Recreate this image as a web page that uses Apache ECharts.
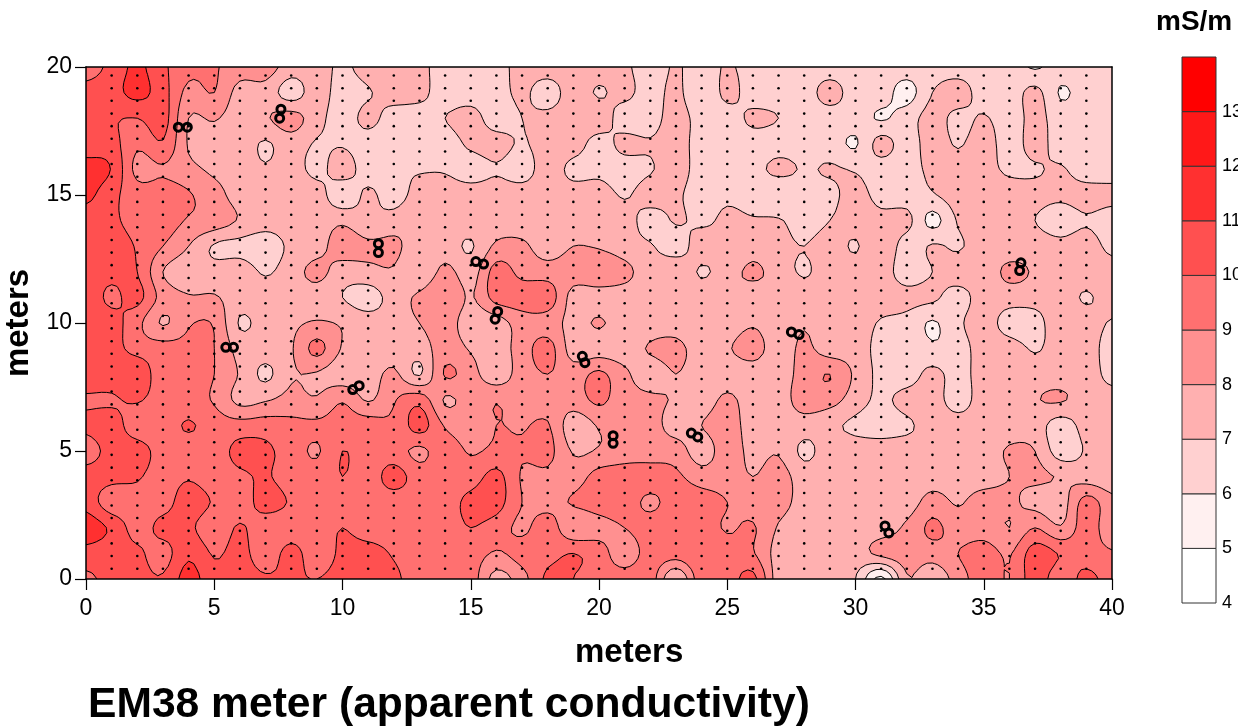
<!DOCTYPE html>
<html>
<head>
<meta charset="utf-8">
<title>EM38 meter (apparent conductivity)</title>
<script src="https://cdn.jsdelivr.net/npm/echarts@6/dist/echarts.min.js"></script>
<style>html,body{margin:0;padding:0;background:#fff}#c{width:1238px;height:727px}</style>
</head>
<body>
<div id="c"></div>
<script>
const titleText = 'EM38 meter (apparent conductivity)';
const axisName = 'meters';
const unitName = 'mS/m';
const levels = [4, 5, 6, 7, 8, 9, 10, 11, 12, 13];
const bandColors = ['#ffffff', '#fff0f0', '#ffd0d0', '#ffb0b0', '#ff9090', '#ff7070', '#ff5050', '#ff3030', '#ff1818', '#ff0000'];

// conductivity at each whole metre; first row is y = 20, last is y = 0; columns x = 0..40
const z20 = [9.5,10.3,11.2,10.2,9.3,9.1,8.5,8.5,7.5,7.5,6.8,7.5,7.5,7.3,6.5,6.5,6.7,7.3,7.5,7.5,7.5,7.2,6.5,7.1,6.5,7.1,6.6,6.5,6.5,6.5,6.5,6.5,6.5,6.5,6.5,6.5,6.5,5.9,6.5,6.5,7.0];
const z19 = [10.4,10.6,11.3,10.4,8.7,9,7.6,7.6,6.5,7.5,6.5,6.9,7.5,7.3,6.5,6.5,6.6,7.2,6.5,7.5,6.9,7.3,6.5,7.3,6,7.3,6.5,6.5,6.5,7.4,6.5,6.5,5.6,7,7.5,6.5,6.4,7.3,5.9,6.5,6.7];
const z18 = [10.5,10.1,10,10.4,8,8.1,7.5,7.9,8.4,7.4,6.5,7.3,6.5,6.5,7,7.4,6.5,7,7.3,7.5,7.6,6.5,6.5,7.5,6.5,6.5,7.2,7,6.5,6.5,6.5,5.9,6.5,7.4,6.7,7.1,6.5,7.3,6.5,6.5,6.5];
const z17 = [10.5,10.4,9.2,9.9,7.9,7.5,7.5,6.9,7.5,6.9,6.9,6.5,6.5,6.5,6.5,7.2,7.4,6.9,7.5,7.5,6.6,7.3,7.1,7.5,6.5,6.5,6.5,6.5,6.5,6.5,5.9,7.4,6.5,7.5,6.9,7.5,6.5,7.4,6.5,6.5,6.5];
const z16 = [11.4,10.95,8.7,8.9,8.3,7.8,7.5,7.1,7.5,6.7,7.5,6.5,6.8,6.9,6.9,6.5,6.9,6.5,7.5,6.7,6.7,6.5,6.9,7.5,6.5,6.5,6.6,7.3,6.9,7.1,6.9,6.5,6.5,7.3,7.5,7.4,6.8,6.9,7.1,6.5,6.5];
const z15 = [11.3,10.3,9.5,9.5,9.1,8.4,7.6,7.5,7.9,7.5,6.3,7.2,6.5,7.5,7.5,7.5,7.5,7.5,7.5,7.5,7.5,6.9,7.5,7.2,6.5,6.8,6.5,6,6.5,6.7,7.4,6.6,6.5,6.9,7.5,7.5,7.5,7.3,7.2,7.4,7.3];
const z14 = [10.4,10.2,9.6,9.5,8.9,8.6,7.9,7.4,7.5,7.5,7.8,7.2,7.5,8,7.5,7.5,7.5,7.5,7.5,7.5,7.5,7.5,6.5,7.1,6.8,7.2,7.1,7.1,6.5,7,7.5,7.4,7.3,5.7,7.1,7.5,7.5,7,6.5,6.9,6.5];
const z13 = [10.5,10.5,9.9,9,8,6.9,6.7,6.5,7.2,7.6,8.5,8.2,8.2,7.5,7.5,6.9,8.2,8.2,7.5,8,7.9,7.5,7.1,6.5,7.5,7,7.5,7.3,7,7.5,6.9,7.9,6.5,7.1,6.9,7.5,7.5,7.5,7.3,7.5,6.7];
const z12 = [10.3,10.3,10,8,7.4,7.4,7.5,6.9,7.5,8.3,7.5,7.7,7.9,7.1,8.3,7.5,9.4,8.7,8.5,8.5,8.8,8.3,7.5,7.8,6.9,7.5,8.2,7.5,6.9,7.5,7.5,7.5,6.5,7,7.5,7.5,8.2,7.9,7.5,7.6,7.5];
const z11 = [10.6,9.8,10.3,8.6,8.1,8.1,7.5,7.5,7.5,7.5,7,6.5,7.5,8.2,9,7.9,9.4,9.5,9.6,7.6,7.5,7.5,7.5,7.5,7.5,8,7.5,8,7.5,7.5,7.5,7.5,7.3,7.2,6.6,7.5,7.5,7.5,7.5,6.9,7.5];
const z10 = [10.4,10.4,9.3,7.9,8.9,8.9,6.9,7.5,7.8,8.1,7.9,7.5,7.5,8,8.5,7.4,7.5,8.5,8.5,7.7,8.1,7.5,7.5,7.5,7.1,7.5,7.9,7.5,7.9,7.5,7.5,6.9,6.7,5.9,6.8,7.5,6.5,6.5,7.9,7.5,6.9];
const z9 = [10.5,10.4,9.6,9.4,9.2,9,7.6,7.5,7.9,9.3,7.9,7.5,7.5,7.5,8.5,7.9,7.5,8.5,9.4,7.5,7.5,7.5,8.1,8.3,7.5,7.9,8.4,7.5,8.2,7.5,7.5,6.7,6.9,6.2,6.5,7.5,7.5,6.9,7.5,7.5,6.5];
const z8 = [10.5,10.5,10.9,9.2,9.4,9,7.9,6.8,7.9,7.9,7.4,7.5,8.2,6.9,9.1,8.4,7.4,8.5,9,8.5,9.2,8.2,7.5,8,7.5,7.5,7.5,7.5,8.4,9,7.8,6.7,6.5,7.3,6.6,7.5,7.5,7.5,7.5,7.6,6.6];
const z7 = [9.9,9.9,10.1,9.5,9.3,8.9,7.7,7.9,8.3,8.1,8.9,7.9,8.9,9.6,7.9,8.5,8.9,8.5,8.5,8.5,9.2,8.4,8.2,7.9,7.5,8.2,7.5,7.5,8.5,8.4,7.5,6.8,7.4,7.5,6.5,7.5,7,7.9,8.1,7.5,7.5];
const z6 = [10.2,10.4,9.5,9.5,10.1,9.5,9.4,9.5,9.3,9.2,9.5,9.5,9.2,10.4,8.9,8.5,9,8.9,9.1,7.4,8.1,8.4,8.4,7.6,8,8.5,7.5,7.5,7.5,7.2,6.8,6.5,6.8,7.5,7.5,7.5,7.5,7.5,6.5,7.4,7.5];
const z5 = [9.6,10.3,10.4,9.6,9.5,9.5,10.3,10.2,9.5,8.9,10,9.5,9.4,8.8,9.5,8.9,9.2,9.1,9.3,7.9,8.1,8.5,8.5,8.5,7.5,8.5,7.7,7.9,6.8,7.5,7.5,7.5,7.5,7,7.5,7.5,8.1,8,6.5,7.1,7.5];
const z4 = [10.4,10.3,10.1,9.6,9.9,9.5,9.8,10.1,9.5,9.4,10,9.5,10.4,9.5,9.5,9.5,10.3,8.9,8.8,8.5,9.4,9.5,9.5,9.2,8.5,8.5,8,8.4,7.5,7.5,8,7.5,7.5,7.5,7.5,7.5,8,8.2,7.9,7.5,7.3];
const z3 = [10.6,9.4,9.6,9.6,10.5,9.9,9.5,10.4,9.9,9.5,9.5,9.5,9.5,9.5,9.5,10.3,10.4,9,8.7,9.1,9.5,9.5,8.8,9.5,9.5,9,8.5,8.4,7.6,7.5,7.5,7.5,7.5,8.4,7.9,8.5,8.2,7.7,7.5,9.4,8.3];
const z2 = [11.6,10.8,9.6,10.3,10.2,9.4,10.1,9.4,9.5,9.5,10,9.5,9.5,9.5,9.5,10,9.5,8.8,9.5,8.2,8.6,9,9.5,9.5,9.5,8.9,9.1,7.9,7.4,7.6,7.5,7.5,8.2,9.2,8.5,8.5,8,9,8.1,9.5,8.3];
const z1 = [10.6,10.4,10.2,9.6,10.8,9.9,10.3,9.5,10.3,9.5,10.2,10.4,9.9,9.5,9.5,9.5,8.9,9.4,9.7,10,9.5,8.4,9.5,9.5,9.9,9.5,9.1,7.6,7.5,7.5,7.5,8.3,8.5,8.5,9,9.5,8.9,10.5,9.9,9.5,9.1];
const z0 = [9.8,10.3,10.3,10.1,11.4,10.3,10.4,10.1,10.1,10,10.3,10.4,10.2,9.5,9.5,9.5,7.6,8.6,10.2,10,9.5,9.5,9.5,7,9.7,9.5,10.3,7.5,7.5,7.5,7,4.7,7.9,7.2,8.5,9.5,9,10.5,9.4,10.3,9.5];
const zRows = [z20,z19,z18,z17,z16,z15,z14,z13,z12,z11,z10,z9,z8,z7,z6,z5,z4,z3,z2,z1,z0];

// survey stations
const dotXs = [1,2,3,4,5,6,7,8,9,10,11,12,13,14,15,16,17,18,19,20,21,22,23,24,25,26,27,28,29,30,31,32,33,34,35,36,37,38,39];
const dotYs = [0.4,0.9,1.39,1.88,2.38,2.87,3.36,3.86,4.35,4.85,5.34,5.83,6.33,6.82,7.32,7.81,8.3,8.8,9.29,9.79,10.28,10.77,11.27,11.76,12.26,12.75,13.24,13.74,14.23,14.73,15.22,15.71,16.21,16.7,17.2,17.69,18.18,18.68,19.17,19.67];

// flagged readings, drawn as open rings
const ringPoints = [
  [3.6,17.65],[3.95,17.65],[7.6,18.35],[7.55,18.0],[11.4,13.1],[11.4,12.75],
  [15.2,12.4],[15.5,12.3],[16.05,10.45],[15.95,10.15],[5.45,9.05],[5.75,9.05],
  [10.4,7.4],[10.65,7.55],[19.35,8.7],[19.45,8.45],[20.55,5.6],[20.55,5.3],
  [23.6,5.7],[23.85,5.55],[27.5,9.65],[27.8,9.55],[36.45,12.35],[36.4,12.05],
  [31.15,2.07],[31.3,1.8]
];

function sampleCR(p0,p1,p2,p3,t){
  return 0.5*((2*p1)+(-p0+p2)*t+(2*p0-5*p1+4*p2-p3)*t*t+(-p0+3*p1-3*p2+p3)*t*t*t);
}
const NX = zRows[0].length - 1, NY = zRows.length - 1, SUB = 5;
function rowAt(j){ return zRows[Math.max(0, Math.min(NY, j))]; }
function cellVal(i,j){ return rowAt(j)[Math.max(0, Math.min(NX, i))]; }
const fine = [];
for (let fj = 0; fj <= NY*SUB; fj++){
  const j = Math.min(NY-1, Math.floor(fj/SUB)), v = fj/SUB - j, line = [];
  for (let fi = 0; fi <= NX*SUB; fi++){
    const i = Math.min(NX-1, Math.floor(fi/SUB)), u = fi/SUB - i, col = [];
    for (let k = -1; k <= 2; k++){
      col.push(sampleCR(cellVal(i-1,j+k),cellVal(i,j+k),cellVal(i+1,j+k),cellVal(i+2,j+k),u));
    }
    line.push(sampleCR(col[0],col[1],col[2],col[3],v));
  }
  fine.push(line);
}

const pathCache = {};
function contourPaths(t, api){
  const key = t + '|' + api.getWidth() ;
  if (pathCache[key]) return pathCache[key];
  const toPx = (fx,fy) => { const p = api.coord([fx/SUB, NY - fy/SUB]); return p[0].toFixed(1)+' '+p[1].toFixed(1); };
  let fill = [], line = [];
  for (let j = 0; j < fine.length-1; j++){
    for (let i = 0; i < fine[0].length-1; i++){
      const cs = [[i,j,fine[j][i]],[i+1,j,fine[j][i+1]],[i+1,j+1,fine[j+1][i+1]],[i,j+1,fine[j+1][i]]];
      const ins = cs.filter(c => c[2] >= t).length;
      if (ins === 0) continue;
      if (ins === 4){
        fill.push('M'+toPx(i,j)+'L'+toPx(i+1,j)+'L'+toPx(i+1,j+1)+'L'+toPx(i,j+1)+'Z');
        continue;
      }
      const poly = [], cross = [];
      for (let k = 0; k < 4; k++){
        const a = cs[k], b = cs[(k+1)%4], ai = a[2] >= t, bi = b[2] >= t;
        if (ai) poly.push(toPx(a[0],a[1]));
        if (ai !== bi){
          const r = (t-a[2])/(b[2]-a[2]);
          const c = toPx(a[0]+(b[0]-a[0])*r, a[1]+(b[1]-a[1])*r);
          poly.push(c); cross.push(c);
        }
      }
      fill.push('M'+poly.join('L')+'Z');
      if (cross.length === 2) line.push('M'+cross[0]+'L'+cross[1]);
      else if (cross.length === 4){
        if (cs[0][2] >= t){ line.push('M'+cross[0]+'L'+cross[1]); line.push('M'+cross[2]+'L'+cross[3]); }
        else { line.push('M'+cross[1]+'L'+cross[2]); line.push('M'+cross[3]+'L'+cross[0]); }
      }
    }
  }
  return (pathCache[key] = {fill: fill.join(''), line: line.join('')});
}

const stations = [];
dotXs.forEach(x => dotYs.forEach(y => stations.push([x,y])));
const font = '"Liberation Sans", Arial, sans-serif';

const chart = echarts.init(document.getElementById('c'), null, {renderer:'canvas'});
chart.setOption({
  animation: false,
  backgroundColor: '#ffffff',
  title: [
    {text: titleText, left: 88, top: 684, padding:0, textStyle:{fontFamily:font,fontSize:42.6,fontWeight:'bold',color:'#000'}},
    {text: axisName, left: 575, top: 636, padding:0, textStyle:{fontFamily:font,fontSize:33,fontWeight:'bold',color:'#000'}},
    {text: unitName, left: 1156, top: 8, padding:0, textStyle:{fontFamily:font,fontSize:28,fontWeight:'bold',color:'#000'}}
  ],
  grid: [
    {left:86, right:126, top:67, bottom:148, outerBoundsMode:'none'},
    {left:1182, width:34, top:57, height:546, outerBoundsMode:'none'}
  ],
  xAxis: [
    {type:'value', gridIndex:0, min:0, max:40, interval:5, position:'bottom', z:10,
     axisLine:{show:true,onZero:false,lineStyle:{color:'#000',width:1.5}},
     axisTick:{show:true,length:11,lineStyle:{color:'#000',width:1.2}},
     axisLabel:{fontFamily:font,fontSize:23,color:'#000',margin:18,showMinLabel:true,showMaxLabel:true},
     splitLine:{show:false}},
    {type:'value', gridIndex:0, min:0, max:40, position:'top', z:10,
     axisLine:{show:true,onZero:false,lineStyle:{color:'#000',width:1.5}},
     axisTick:{show:false},axisLabel:{show:false},splitLine:{show:false}},
    {type:'value', gridIndex:1, min:0, max:1, show:false}
  ],
  yAxis: [
    {type:'value', gridIndex:0, min:0, max:20, interval:5, position:'left', z:10,
     name:axisName, nameLocation:'middle', nameRotate:90, nameGap:50,
     nameTextStyle:{fontFamily:font,fontSize:33,fontWeight:'bold',color:'#000'},
     axisLine:{show:true,onZero:false,lineStyle:{color:'#000',width:1.5}},
     axisTick:{show:true,length:11,lineStyle:{color:'#000',width:1.2}},
     axisLabel:{fontFamily:font,fontSize:23,color:'#000',margin:14,showMinLabel:true,showMaxLabel:true},
     splitLine:{show:false}},
    {type:'value', gridIndex:0, min:0, max:20, position:'right', z:10,
     axisLine:{show:true,onZero:false,lineStyle:{color:'#000',width:1.5}},
     axisTick:{show:false},axisLabel:{show:false},splitLine:{show:false}},
    {type:'value', gridIndex:1, min:4, max:14, interval:1, position:'right',
     axisLine:{show:false},axisTick:{show:false},splitLine:{show:false},
     axisLabel:{fontFamily:font,fontSize:18,color:'#000',margin:6,showMaxLabel:false,
       formatter:v => v === 14 ? '' : String(v)}}
  ],
  series: [
    {type:'custom', name:'bands', coordinateSystem:'cartesian2d', xAxisIndex:0, yAxisIndex:0, z:2, silent:true, clip:true,
     data: levels.map((l,i)=>[l,i]),
     renderItem:(params,api)=>{
       const t = api.value(0), idx = api.value(1);
       return {type:'path', shape:{pathData: contourPaths(t,api).fill}, style:{fill:bandColors[idx]}};
     }},
    {type:'custom', name:'contours', coordinateSystem:'cartesian2d', xAxisIndex:0, yAxisIndex:0, z:3, silent:true, clip:true,
     data: levels.slice(1).map(l=>[l]),
     renderItem:(params,api)=>{
       const t = api.value(0);
       return {type:'path', shape:{pathData: contourPaths(t,api).line}, style:{fill:'none',stroke:'#000',lineWidth:1}};
     }},
    {type:'scatter', name:'stations', xAxisIndex:0, yAxisIndex:0, z:4, silent:true, symbol:'circle', symbolSize:2.6,
     itemStyle:{color:'#000',opacity:1}, data:stations},
    {type:'scatter', name:'rings', xAxisIndex:0, yAxisIndex:0, z:5, silent:true, symbol:'circle', symbolSize:8,
     itemStyle:{color:'rgba(0,0,0,0)',borderColor:'#000',borderWidth:3,opacity:1}, data:ringPoints},
    {type:'custom', name:'scale', coordinateSystem:'cartesian2d', xAxisIndex:2, yAxisIndex:2, z:2, silent:true,
     data: levels.map((l,i)=>[l,i]),
     renderItem:(params,api)=>{
       const lo = api.value(0), idx = api.value(1);
       const a = api.coord([0,lo+1]), b = api.coord([1,lo]);
       return {type:'rect', shape:{x:a[0],y:a[1],width:b[0]-a[0],height:b[1]-a[1]},
               style:{fill:bandColors[idx],stroke:'#333',lineWidth:1}};
     }}
  ]
});
</script>
</body>
</html>
